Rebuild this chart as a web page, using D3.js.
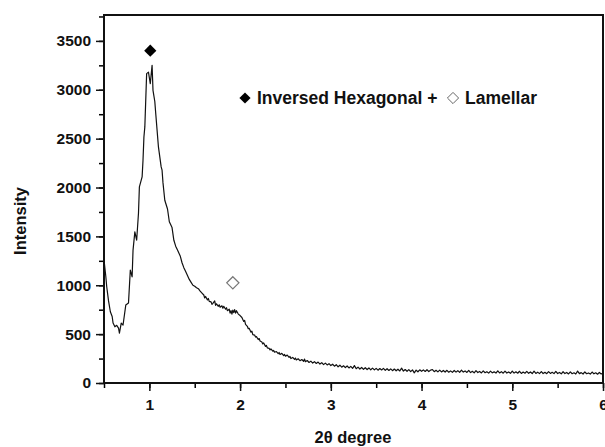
<!DOCTYPE html>
<html>
<head>
<meta charset="utf-8">
<script src="https://cdn.jsdelivr.net/npm/d3@7"></script>
<style>
  body { margin: 0; background: #fff; }
  text { font-family: "Liberation Sans", Arial, sans-serif; font-weight: bold; fill: #111; }
</style>
</head>
<body>
<div id="chart"></div>
<script>
// XRD pattern: [2theta, intensity]
var pattern = [
  [0.50, 1260], [0.52, 1090], [0.53, 985], [0.55, 840], [0.57, 729], [0.59, 680], [0.60, 613],
  [0.62, 575], [0.64, 590], [0.66, 562], [0.67, 511], [0.69, 613], [0.71, 593], [0.74, 797],
  [0.77, 818], [0.79, 1155], [0.81, 1086], [0.82, 1359], [0.84, 1546], [0.86, 1461],
  [0.88, 1737], [0.89, 2006], [0.92, 2108], [0.93, 2279], [0.94, 2517], [0.95, 2620],
  [0.97, 3165], [0.99, 3181], [1.01, 3063], [1.03, 3250], [1.04, 2994], [1.06, 2880],
  [1.07, 2759], [1.10, 2415], [1.13, 2211], [1.14, 2177], [1.15, 2050], [1.17, 1870],
  [1.20, 1780], [1.22, 1650], [1.25, 1590], [1.27, 1460], [1.29, 1400], [1.31, 1360],
  [1.34, 1300], [1.36, 1230], [1.38, 1180], [1.40, 1140], [1.42, 1100], [1.44, 1060],
  [1.46, 1030], [1.48, 1000], [1.50, 990], [1.52, 975], [1.54, 965], [1.56, 940],
  [1.58, 920], [1.60, 900], [1.61, 870], [1.62, 885], [1.64, 850], [1.65, 865], [1.66, 835],
  [1.68, 830], [1.69, 805], [1.70, 815], [1.72, 840], [1.73, 795], [1.74, 810], [1.76, 785],
  [1.77, 800], [1.78, 775], [1.80, 790], [1.81, 765], [1.82, 785], [1.84, 755],
  [1.85, 770], [1.86, 740], [1.88, 755], [1.89, 715], [1.90, 740], [1.91, 705], [1.92, 745],
  [1.93, 720], [1.94, 750], [1.95, 715], [1.96, 740], [1.98, 705], [2.00, 690], [2.02, 670],
  [2.04, 630], [2.05, 640], [2.06, 600], [2.08, 580], [2.09, 555], [2.10, 560], [2.12, 520],
  [2.13, 530], [2.14, 495], [2.16, 490], [2.17, 470], [2.18, 475], [2.20, 445], [2.21, 455],
  [2.22, 430], [2.24, 420], [2.25, 400], [2.26, 410], [2.28, 375], [2.29, 385], [2.30, 360],
  [2.32, 355], [2.33, 338], [2.34, 348], [2.36, 325], [2.37, 333], [2.38, 315], [2.40, 322],
  [2.42, 300], [2.43, 312], [2.44, 292], [2.46, 303], [2.48, 280], [2.49, 292], [2.50, 275],
  [2.52, 285], [2.54, 262], [2.55, 272], [2.56, 250], [2.58, 262], [2.60, 242], [2.61, 255],
  [2.62, 236], [2.64, 248], [2.66, 228], [2.68, 240], [2.70, 222], [2.71, 245], [2.72, 218],
  [2.74, 230], [2.76, 210], [2.78, 224], [2.80, 204], [2.82, 218], [2.84, 200], [2.86, 214],
  [2.88, 194], [2.90, 208], [2.92, 188], [2.94, 203], [2.96, 185], [2.98, 198], [3.00, 178],
  [3.02, 192], [3.04, 172], [3.06, 187], [3.08, 166], [3.10, 182], [3.12, 162], [3.14, 176],
  [3.16, 158], [3.18, 174], [3.20, 154], [3.22, 170], [3.24, 150], [3.26, 178], [3.28, 146],
  [3.30, 162], [3.32, 143], [3.34, 159], [3.36, 140], [3.38, 156], [3.40, 138], [3.42, 154],
  [3.44, 135], [3.46, 152], [3.48, 134], [3.50, 150], [3.52, 131], [3.54, 148], [3.56, 133],
  [3.58, 150], [3.60, 130], [3.62, 146], [3.64, 128], [3.66, 145], [3.68, 126], [3.70, 143],
  [3.72, 125], [3.74, 141], [3.76, 123], [3.78, 152], [3.80, 122], [3.82, 138], [3.84, 120],
  [3.86, 137], [3.88, 116], [3.90, 134], [3.92, 104], [3.94, 132], [3.96, 115],
  [3.98, 135], [4.00, 120], [4.02, 134], [4.04, 118], [4.06, 136], [4.08, 117], [4.10, 132],
  [4.12, 138], [4.14, 116], [4.16, 130], [4.18, 114], [4.20, 132], [4.22, 113], [4.24, 128],
  [4.26, 112], [4.28, 130], [4.30, 110], [4.32, 124], [4.34, 109], [4.36, 128], [4.38, 111],
  [4.40, 126], [4.42, 108], [4.44, 132], [4.46, 112], [4.48, 124], [4.50, 108], [4.52, 129],
  [4.54, 106], [4.56, 120], [4.58, 104], [4.60, 126], [4.62, 107], [4.64, 118], [4.66, 103],
  [4.68, 124], [4.70, 105], [4.72, 116], [4.74, 101], [4.76, 122], [4.78, 104], [4.80, 114],
  [4.82, 102], [4.84, 125], [4.86, 103], [4.88, 116], [4.90, 100], [4.92, 121], [4.94, 102],
  [4.96, 113], [4.98, 99], [5.00, 122], [5.02, 101], [5.04, 115], [5.06, 100], [5.08, 120],
  [5.10, 98], [5.12, 112], [5.14, 100], [5.16, 119], [5.18, 99], [5.20, 113], [5.22, 97],
  [5.24, 121], [5.26, 98], [5.28, 111], [5.30, 96], [5.32, 117], [5.34, 97], [5.36, 109],
  [5.38, 95], [5.40, 116], [5.42, 98], [5.44, 110], [5.46, 96], [5.48, 118], [5.50, 97],
  [5.52, 108], [5.54, 94], [5.56, 115], [5.58, 96], [5.60, 108], [5.62, 93], [5.64, 114],
  [5.66, 95], [5.68, 104], [5.70, 92], [5.72, 122], [5.74, 96], [5.76, 106], [5.78, 92],
  [5.80, 113], [5.82, 95], [5.84, 103], [5.86, 91], [5.88, 112], [5.90, 94], [5.92, 104],
  [5.94, 90], [5.96, 108], [5.98, 93], [6.00, 98]
];

var xTicks = [1, 2, 3, 4, 5, 6];
var yTicks = [0, 500, 1000, 1500, 2000, 2500, 3000, 3500];

// peak markers: [2theta, intensity]
var hexMarker = [1.01, 3400];
var lamMarker = [1.92, 1025];

var width = 605,
  height = 447,
  margin = { top: 15, right: 2, bottom: 64, left: 104 };

var svg = d3.select("#chart").append("svg")
  .attr("width", width)
  .attr("height", height);

var w = width - margin.left - margin.right,
  h = height - margin.top - margin.bottom;

var x = d3.scaleLinear().domain([0.5, 6]).range([0, w]);
var y = d3.scaleLinear().domain([0, 3765]).range([h, 0]);

var g = svg.append("g")
  .attr("transform", "translate(" + margin.left + "," + margin.top + ")");

// minor ticks
g.append("g")
  .attr("transform", "translate(0," + h + ")")
  .call(d3.axisBottom(x).tickValues(d3.range(0.5, 6.01, 0.5)).tickSize(5).tickFormat(""))
  .call(function(a) { a.select(".domain").remove(); })
  .selectAll("line").attr("stroke-width", 1.5);
g.append("g")
  .call(d3.axisLeft(y).tickValues(d3.range(0, 3751, 250)).tickSize(5).tickFormat(""))
  .call(function(a) { a.select(".domain").remove(); })
  .selectAll("line").attr("stroke-width", 1.5);

// major ticks
var xAxis = g.append("g")
  .attr("transform", "translate(0," + h + ")")
  .call(d3.axisBottom(x).tickValues(xTicks).tickSize(8).tickPadding(8).tickFormat(d3.format("d")));
var yAxis = g.append("g")
  .call(d3.axisLeft(y).tickValues(yTicks).tickSize(8).tickPadding(5).tickFormat(d3.format("d")));

[xAxis, yAxis].forEach(function(a) {
  a.select(".domain").remove();
  a.selectAll("line").attr("stroke-width", 1.5).attr("stroke", "#111");
  a.selectAll("text")
    .style("font-family", "'Liberation Sans', Arial, sans-serif")
    .style("font-weight", "bold")
    .style("font-size", "15.5px")
    .attr("fill", "#111");
});

// frame
g.append("rect")
  .attr("width", w)
  .attr("height", h)
  .attr("fill", "none")
  .attr("stroke", "#111")
  .attr("stroke-width", 2);

// pattern line
var line = d3.line()
  .x(function(d) { return x(d[0]); })
  .y(function(d) { return y(d[1]); });

g.append("path")
  .datum(pattern)
  .attr("fill", "none")
  .attr("stroke", "#111")
  .attr("stroke-width", 1.2)
  .attr("stroke-linejoin", "round")
  .attr("d", line);

// markers
var diamond = d3.symbol().type(d3.symbolDiamond2).size(95);
g.append("path")
  .attr("d", diamond)
  .attr("transform", "translate(" + x(hexMarker[0]) + "," + y(hexMarker[1]) + ")")
  .attr("fill", "#000");
g.append("path")
  .attr("d", diamond)
  .attr("transform", "translate(" + x(lamMarker[0]) + "," + y(lamMarker[1]) + ")")
  .attr("fill", "none")
  .attr("stroke", "#777")
  .attr("stroke-width", 1.2);

// legend
var leg = svg.append("g").attr("transform", "translate(245,98)");
leg.append("path")
  .attr("d", d3.symbol().type(d3.symbolDiamond2).size(80))
  .attr("fill", "#000");
leg.append("text")
  .attr("x", 12)
  .attr("y", 6)
  .style("font-size", "17.5px")
  .text("Inversed Hexagonal +");
leg.append("path")
  .attr("d", d3.symbol().type(d3.symbolDiamond2).size(80))
  .attr("transform", "translate(208,0)")
  .attr("fill", "none")
  .attr("stroke", "#666")
  .attr("stroke-width", 1);
leg.append("text")
  .attr("x", 220)
  .attr("y", 6)
  .style("font-size", "17.5px")
  .text("Lamellar");

// axis titles
svg.append("text")
  .attr("transform", "translate(26," + (margin.top + h / 2 + 22) + ") rotate(-90)")
  .attr("text-anchor", "middle")
  .style("font-size", "16.5px")
  .text("Intensity");
svg.append("text")
  .attr("x", 353)
  .attr("y", 443)
  .attr("text-anchor", "middle")
  .style("font-size", "16.5px")
  .text("2θ degree");
</script>
</body>
</html>
